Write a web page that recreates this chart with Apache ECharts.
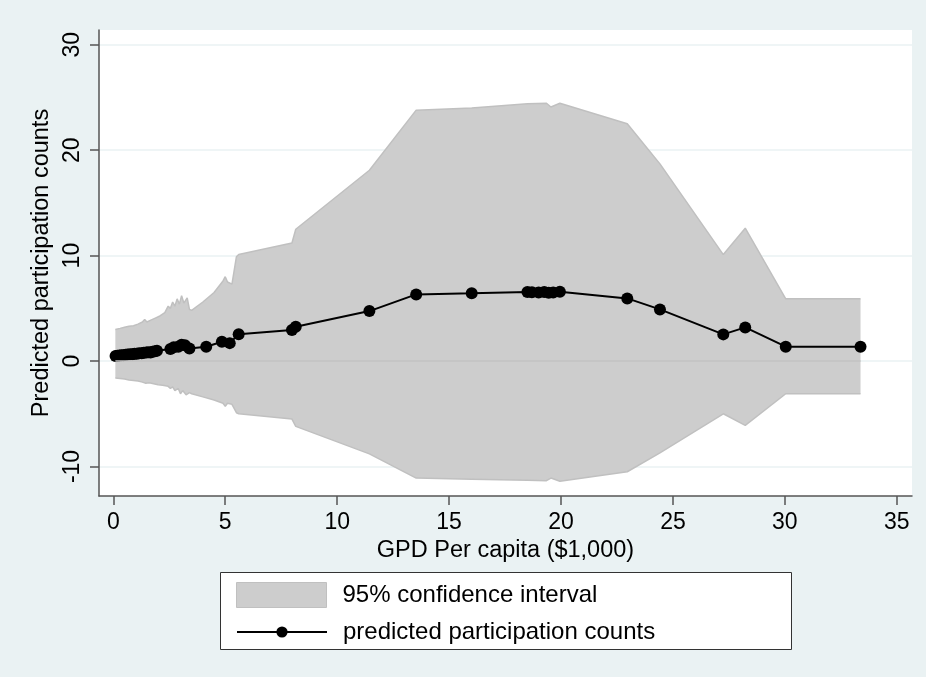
<!DOCTYPE html>
<html>
<head>
<meta charset="utf-8">
<script src="https://cdn.jsdelivr.net/npm/echarts@6/dist/echarts.min.js"></script>
<style>
html, body { margin: 0; padding: 0; background: #eaf2f3; }
#chart { width: 926px; height: 677px; }
</style>
</head>
<body>
<div id="chart"></div>
<script>
// GDP per capita ($1,000) and predicted counts
var gdp = [0.10, 0.18, 0.27, 0.36, 0.45, 0.55, 0.64, 0.75, 0.85, 0.95, 1.05, 1.15, 1.27, 1.36, 1.47, 1.56, 1.66, 1.75, 1.86, 1.95,
    2.55, 2.70, 2.90, 3.05, 3.20, 3.40, 4.15, 4.85, 5.20, 5.60, 7.98, 8.15, 11.44, 13.53, 16.01,
    18.50, 18.70, 19.00, 19.25, 19.45, 19.65, 19.95, 22.96, 24.42, 27.25, 28.23, 30.04, 33.38];
var predicted = [0.48, 0.50, 0.53, 0.55, 0.56, 0.60, 0.61, 0.64, 0.65, 0.69, 0.70, 0.74, 0.73, 0.78, 0.80, 0.83, 0.82, 0.88, 0.92, 0.97,
    1.15, 1.30, 1.35, 1.55, 1.50, 1.20, 1.36, 1.83, 1.70, 2.55, 2.94, 3.25, 4.74, 6.32, 6.42,
    6.55, 6.52, 6.50, 6.55, 6.48, 6.50, 6.57, 5.94, 4.90, 2.53, 3.19, 1.36, 1.36];

// 95% confidence interval, upper and lower edges
var ciUpperGdp = [0.09, 0.30, 0.50, 0.70, 0.90, 1.10, 1.30, 1.40, 1.50, 1.70, 1.90, 2.10, 2.30, 2.45, 2.55, 2.65, 2.75, 2.85, 2.95,
    3.05, 3.15, 3.30, 3.40, 3.50, 4.00, 4.50, 4.90, 5.00, 5.10, 5.30, 5.50, 5.60, 7.98, 8.15, 11.44, 13.53, 16.01,
    18.50, 19.35, 19.55, 19.95, 22.96, 24.42, 27.25, 28.23, 30.04, 33.38];
var ciUpper = [3.0, 3.1, 3.2, 3.3, 3.35, 3.5, 3.7, 3.95, 3.7, 3.9, 4.1, 4.3, 4.6, 5.2, 5.0, 5.6, 5.2, 5.9, 5.4,
    6.2, 5.5, 6.0, 4.9, 4.8, 5.6, 6.5, 7.6, 8.0, 7.5, 7.3, 9.9, 10.1, 11.2, 12.5, 18.1, 23.8, 24.0,
    24.4, 24.45, 24.1, 24.45, 22.5, 18.7, 10.1, 12.6, 5.9, 5.9];
var ciLowerGdp = [0.09, 0.30, 0.50, 0.70, 0.90, 1.10, 1.30, 1.45, 1.60, 1.80, 2.00, 2.20, 2.45, 2.55, 2.65, 2.75, 2.90,
    3.00, 3.10, 3.25, 3.40, 3.50, 4.00, 4.50, 4.90, 5.00, 5.10, 5.30, 5.50, 5.60, 7.98, 8.15, 11.44, 13.53, 16.01,
    18.50, 19.35, 19.55, 19.95, 22.96, 24.42, 27.25, 28.23, 30.04, 33.38];
var ciLower = [-1.6, -1.65, -1.7, -1.8, -1.85, -1.9, -2.0, -2.1, -2.05, -2.15, -2.25, -2.3, -2.4, -2.6, -2.45, -2.8, -2.6,
    -3.1, -2.8, -3.2, -3.0, -3.1, -3.4, -3.7, -4.0, -4.3, -4.0, -4.1, -4.9, -5.0, -5.5, -6.2, -8.8, -11.1, -11.2,
    -11.3, -11.35, -11.1, -11.4, -10.5, -8.7, -5.0, -6.1, -3.1, -3.1];

var xTicks = [0, 5, 10, 15, 20, 25, 30, 35];
var yTicks = [-10, 0, 10, 20, 30];

var ciName = '95% confidence interval';
var lineName = 'predicted participation counts';

function pairs(xs, ys) {
    var out = [];
    for (var i = 0; i < xs.length; i++) out.push([xs[i], ys[i]]);
    return out;
}

var font = '"Liberation Sans", Arial, Helvetica, sans-serif';
var bandFill = '#cdcdcd';
var bandEdge = '#c0c0c0';

var chart = echarts.init(document.getElementById('chart'), null, { renderer: 'canvas' });
var option = {
    backgroundColor: '#eaf2f3',
    animation: false,
    textStyle: { fontFamily: font, color: '#000' },
    grid: {
        left: 99, top: 30, right: 14, bottom: 181,
        backgroundColor: '#ffffff', show: true, borderWidth: 0,
        outerBoundsMode: 'none'
    },
    xAxis: {
        type: 'value',
        min: -0.64, max: 35.68,
        splitNumber: 7,
        name: 'GPD Per capita ($1,000)',
        nameLocation: 'middle',
        nameGap: 40,
        nameTextStyle: { fontSize: 23.5, fontFamily: font, color: '#000' },
        axisLine: { onZero: false, lineStyle: { color: '#555', width: 1.5 } },
        axisTick: { show: true, length: 9, customValues: xTicks, lineStyle: { color: '#555', width: 1.5 } },
        axisLabel: { customValues: xTicks, fontSize: 23, fontFamily: font, color: '#000', margin: 15 },
        splitLine: { show: false }
    },
    yAxis: {
        type: 'value',
        min: -12.8, max: 31.4,
        splitNumber: 5,
        name: 'Predicted participation counts',
        nameLocation: 'middle',
        nameGap: 37,
        nameTextStyle: { fontSize: 23.5, fontFamily: font, color: '#000' },
        axisLine: { show: true, onZero: false, lineStyle: { color: '#555', width: 1.5 } },
        axisTick: { show: true, length: 9, customValues: yTicks, lineStyle: { color: '#555', width: 1.5 } },
        axisLabel: { customValues: yTicks, rotate: 90, fontSize: 23, fontFamily: font, color: '#000', margin: 15 },
        splitLine: { show: true, lineStyle: { color: '#eaf2f3', width: 1.5 } }
    },
    graphic: [{
        type: 'rect', left: 220, top: 572, z: 1,
        shape: { width: 571, height: 77 },
        style: { fill: '#ffffff', stroke: '#333', lineWidth: 1 }
    }],
    legend: [{
        data: [{ name: ciName, icon: 'rect', itemStyle: { color: bandFill, borderColor: bandEdge, borderWidth: 1 } }],
        left: 236, top: 582, padding: 0,
        itemWidth: 90, itemHeight: 25,
        textStyle: { fontSize: 24, fontFamily: font, color: '#000', padding: [0, 0, 0, 11] }
    }, {
        data: [lineName],
        left: 236, top: 620, padding: 0,
        itemWidth: 90, itemHeight: 14,
        textStyle: { fontSize: 24, fontFamily: font, color: '#000', padding: [0, 0, 0, 11] }
    }],
    series: [{
        name: ciName,
        type: 'line',
        data: pairs(ciUpperGdp, ciUpper),
        symbol: 'none',
        itemStyle: { color: bandFill },
        lineStyle: { color: bandEdge, width: 1.5 },
        areaStyle: { color: bandFill, opacity: 1, origin: 0 },
        z: 2
    }, {
        name: 'ci-lower',
        type: 'line',
        data: pairs(ciLowerGdp, ciLower),
        symbol: 'none',
        itemStyle: { color: bandFill },
        lineStyle: { color: bandEdge, width: 1.5 },
        areaStyle: { color: bandFill, opacity: 1, origin: 0 },
        // zero line visible across the band, as in the original
        markLine: {
            silent: true, symbol: 'none', label: { show: false },
            lineStyle: { color: '#c2c2c2', width: 1.5, type: 'solid' },
            data: [[{ coord: [ciLowerGdp[0], 0] }, { coord: [ciLowerGdp[ciLowerGdp.length - 1], 0] }]]
        },
        z: 2
    }, {
        name: lineName,
        type: 'line',
        data: pairs(gdp, predicted),
        symbol: 'circle',
        symbolSize: 12,
        showSymbol: true,
        itemStyle: { color: '#000' },
        lineStyle: { color: '#000', width: 2 },
        z: 3
    }]
};
chart.setOption(option);
</script>
</body>
</html>
